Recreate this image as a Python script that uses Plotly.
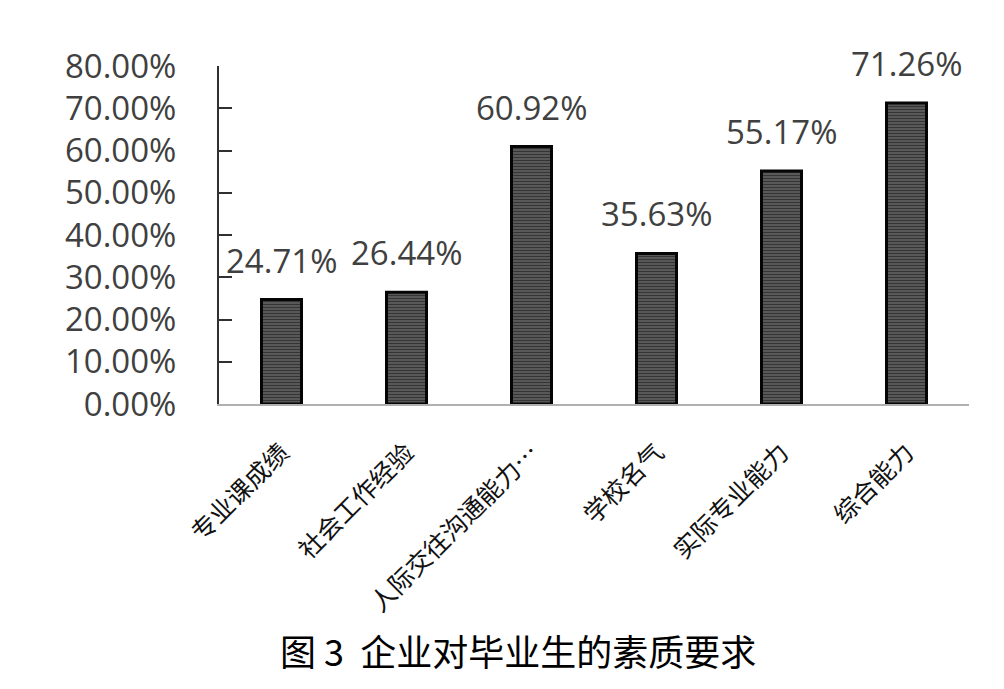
import plotly.graph_objects as go

categories = ["专业课成绩", "社会工作经验", "人际交往沟通能力…", "学校名气", "实际专业能力", "综合能力"]
values = [24.71, 26.44, 60.92, 35.63, 55.17, 71.26]
tick_vals = [0, 10, 20, 30, 40, 50, 60, 70, 80]
tick_text = ["%.2f%%" % v for v in tick_vals]
title_text = "图 3  企业对毕业生的素质要求"

fig = go.Figure()
fig.add_trace(go.Bar(
    x=categories, y=values,
    marker=dict(
        color="#4a4a4a",
        line=dict(color="#050505", width=3),
        pattern=dict(shape="-", fgcolor="#050505", bgcolor="#646464", size=3, solidity=0.5),
    ),
    width=0.32,
    hoverinfo="skip",
))

for c, v in zip(categories, values):
    fig.add_annotation(x=c, y=v, text="%.2f%%" % v, showarrow=False,
                       yanchor="bottom", yshift=15,
                       font=dict(family="Open Sans, Liberation Sans", size=33, color="#404040"))

fig.add_annotation(xref="paper", yref="paper", x=0.398, y=-0.728, text=title_text,
                   showarrow=False, xanchor="center", yanchor="middle",
                   font=dict(family="Noto Sans CJK SC", size=36, color="#000000"))

fig.update_layout(
    width=1004, height=689,
    margin=dict(l=211, r=43, t=58, b=293, autoexpand=False),
    paper_bgcolor="white", plot_bgcolor="white",
    showlegend=False,
    bargap=0.66,
)
fig.update_xaxes(
    automargin=False,
    showline=True, linecolor="#b0b0b0", linewidth=2,
    showgrid=False, ticks="", tickangle=-45,
    ticklabelstandoff=22,
    tickfont=dict(family="Noto Sans CJK SC", size=25, color="#111111"),
)
fig.update_yaxes(
    automargin=False,
    range=[0, 80], tickvals=tick_vals, ticktext=tick_text,
    showline=True, linecolor="#303030", linewidth=2,
    ticks="inside", ticklen=13, tickcolor="#303030", tickwidth=2,
    showgrid=False, zeroline=False,
    ticklabelstandoff=34,
    tickfont=dict(family="Open Sans, Liberation Sans", size=33, color="#404040"),
)

fig.write_html("out.html")
